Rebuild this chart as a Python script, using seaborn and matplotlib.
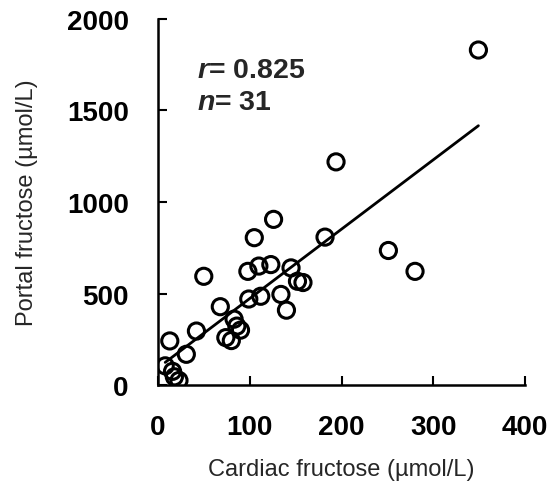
import numpy as np
import pandas as pd
import seaborn as sns
import matplotlib.pyplot as plt

# values (µmol/L)
cardiac = [349, 194, 126, 105, 182, 251, 280, 98, 110, 123, 145, 152, 158, 50,
           99, 112, 134, 140, 68, 86, 90, 74, 80, 42, 31, 13, 8, 16, 18, 23, 83]
portal = [1830, 1219, 905, 805, 808, 735, 621, 621, 650, 658, 640, 567, 560, 594,
          470, 485, 495, 409, 428, 322, 300, 259, 243, 295, 168, 241, 105, 75, 45, 25, 360]
x_ticks = [0, 100, 200, 300, 400]
y_ticks = [0, 500, 1000, 1500, 2000]

df = pd.DataFrame({'cardiac': cardiac, 'portal': portal})

sns.set_theme(style='ticks')
plt.rcParams['font.family'] = ['Liberation Sans', 'DejaVu Sans']
plt.rcParams['mathtext.fontset'] = 'custom'
plt.rcParams['mathtext.it'] = 'Liberation Sans:italic:bold'
plt.rcParams['mathtext.rm'] = 'Liberation Sans:bold'

fig = plt.figure(figsize=(5.5, 4.85), dpi=100)
ax = fig.add_axes([0.287, 0.204, 0.668, 0.755])

sns.scatterplot(data=df, x='cardiac', y='portal', ax=ax, s=135,
                facecolor='none', edgecolor='black', linewidth=2.2, zorder=3)
sns.regplot(data=df, x='cardiac', y='portal', ax=ax, scatter=False, ci=None,
            color='black', line_kws={'linewidth': 2})

ax.set_xlim(0, 400)
ax.set_ylim(0, 2000)
ax.set_xticks(x_ticks)
ax.set_yticks(y_ticks)
ax.tick_params(direction='in', length=6.5, width=1.5, pad=21, labelsize=20, colors='black')
for lab in ax.get_xticklabels() + ax.get_yticklabels():
    lab.set_fontweight('bold')
for sp in ['left', 'bottom']:
    ax.spines[sp].set_linewidth(1.8)
    ax.spines[sp].set_color('black')
sns.despine(ax=ax)

ax.set_xlabel('Cardiac fructose (µmol/L)', fontsize=17, labelpad=13)
ax.set_ylabel('Portal fructose (µmol/L)', fontsize=17, labelpad=21)

ax.text(0.106, 0.861, r'$r$= 0.825', transform=ax.transAxes, fontsize=20.5,
        fontweight='bold', va='center')
ax.text(0.106, 0.773, r'$n$= 31', transform=ax.transAxes, fontsize=20.5,
        fontweight='bold', va='center')

fig.savefig('out.png', dpi=100)
